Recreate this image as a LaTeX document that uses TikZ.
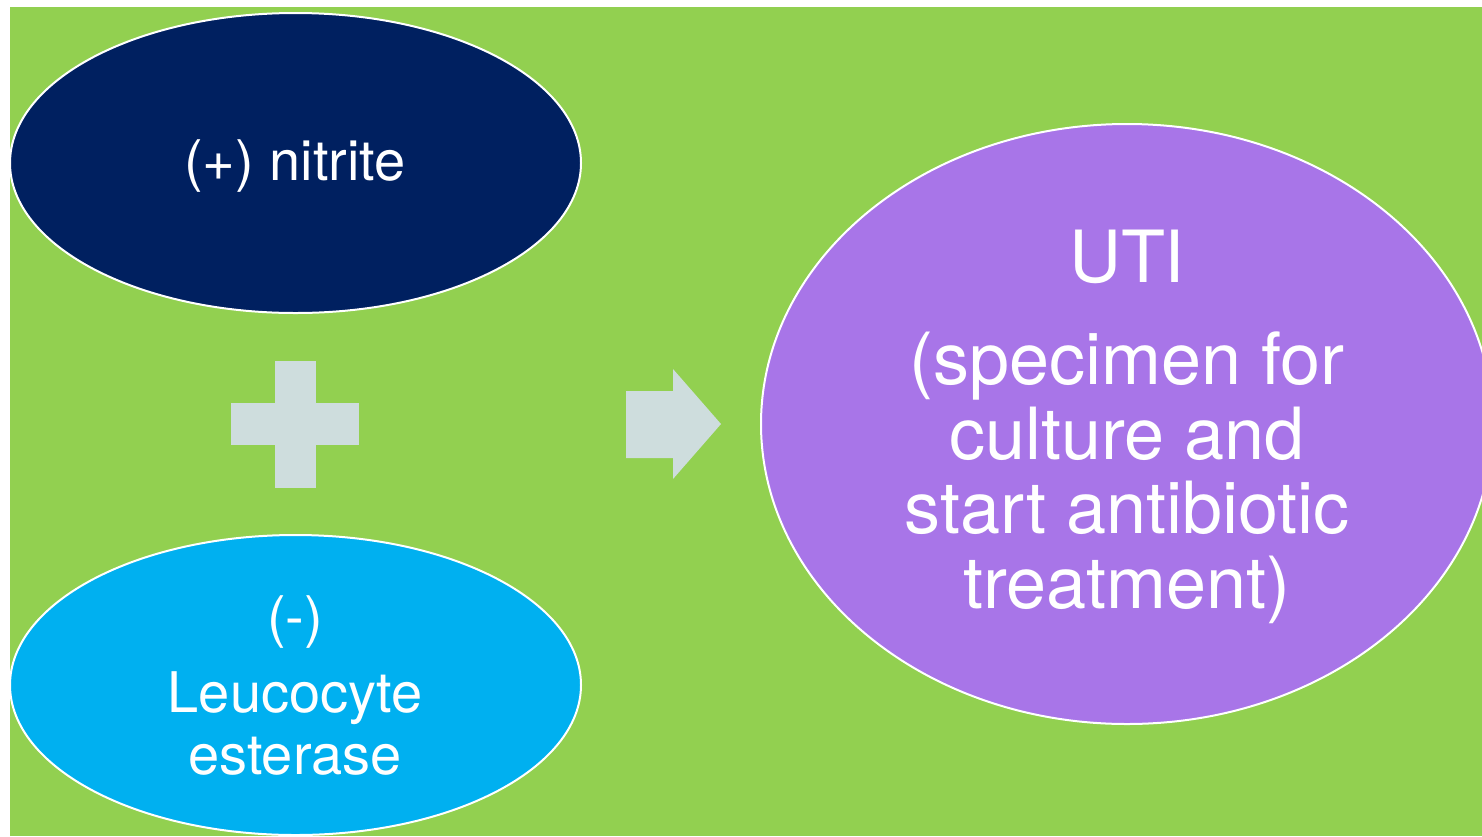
\documentclass[tikz,border=0pt]{standalone}
\usepackage{fontspec}
\setmainfont{TeX Gyre Heros}
\usetikzlibrary{shapes.geometric}
\definecolor{bggreen}{HTML}{92D050}
\definecolor{navyblue}{HTML}{002060}
\definecolor{skyblue}{HTML}{00B0F0}
\definecolor{lilac}{HTML}{A875E8}
\definecolor{signgray}{HTML}{CEDDDD}
\tikzset{
	blob/.style={ellipse, draw=white, line width=1pt, inner sep=0pt},
	smalltxt/.style={text=white, align=center, anchor=base, font=\fontsize{28}{31}\selectfont},
	bigtxt/.style={text=white, align=center, anchor=base, font=\fontsize{36}{37.25}\selectfont}
}

\begin{document}
\begin{tikzpicture}[x=0.5pt,y=-0.5pt]
	\useasboundingbox (0,0) rectangle (1482,836);
	\fill[bggreen] (10,7) rectangle (1482,836);

	\node (nitrite) at (295.5,163) [blob, fill=navyblue, minimum width=285.5pt, minimum height=150pt] {};
	\node (leuco) at (295.5,685) [blob, fill=skyblue, minimum width=285.5pt, minimum height=150pt] {};
	\node (uti) at (1127,424) [blob, fill=lilac, minimum width=366pt, minimum height=300pt] {};

	\fill[signgray] (275,361) rectangle (316,488);
	\fill[signgray] (231,403) rectangle (359,445);
	\fill[signgray] (626,391) -- (673,391) -- (673,369) -- (721,424) -- (673,479) -- (673,458) -- (626,458) -- cycle;

	\node (nitritetxt) at (295,180) [smalltxt] {(+) nitrite};
	\node (minustxt) at (295,636) [smalltxt] {(-)};
	\node (leucotxt) at (295,774) [smalltxt] {Leucocyte\\esterase};
	\node (utitxt) at (1127,282) [bigtxt] {UTI};
	\node (specimentxt) at (1127,608) [bigtxt] {(specimen for\\culture and\\start antibiotic\\treatment)};
\end{tikzpicture}
\end{document}
